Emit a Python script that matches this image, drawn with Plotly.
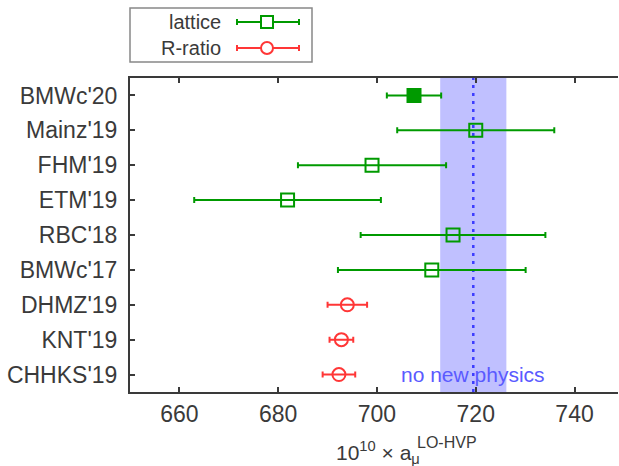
import plotly.graph_objects as go

# ---------------- data ----------------
labels = ["BMWc'20", "Mainz'19", "FHM'19", "ETM'19", "RBC'18", "BMWc'17",
          "DHMZ'19", "KNT'19", "CHHKS'19"]
lattice_labels = ["BMWc'20", "Mainz'19", "FHM'19", "ETM'19", "RBC'18", "BMWc'17"]
lattice_vals = [707.5, 720.0, 699.0, 681.9, 715.4, 711.1]
lattice_errs = [5.5, 15.9, 15.0, 18.9, 18.7, 19.0]
lattice_symbols = ["square", "square-open", "square-open", "square-open",
                   "square-open", "square-open"]
rratio_labels = ["DHMZ'19", "KNT'19", "CHHKS'19"]
rratio_vals = [694.0, 692.8, 692.3]
rratio_errs = [4.0, 2.4, 3.3]
nnp_value = 719.5
nnp_err = 6.7
x_ticks = [660, 680, 700, 720, 740]
x_range = [650, 748.8]

GREEN = "#009a00"
RED = "#ff3636"
TXT = "#3a3a3a"
FONT = "Liberation Sans, Arial, sans-serif"

W, H = 619, 466
ML, MR, MT, MB = 130, 1, 78, 74
PW, PH = W - ML - MR, H - MT - MB


def px(x):
    return (x - ML) / PW


def py(y):
    return (H - MB - y) / PH


fig = go.Figure()
fig.add_trace(go.Scatter(
    x=lattice_vals, y=lattice_labels, mode="markers", name="lattice",
    marker=dict(symbol=lattice_symbols, size=13, color=GREEN,
                line=dict(color=GREEN, width=2)),
    error_x=dict(type="data", array=lattice_errs, color=GREEN,
                 thickness=2, width=3),
    showlegend=False,
))
fig.add_trace(go.Scatter(
    x=rratio_vals, y=rratio_labels, mode="markers", name="R-ratio",
    marker=dict(symbol="circle-open", size=13, color=RED,
                line=dict(color=RED, width=2)),
    error_x=dict(type="data", array=rratio_errs, color=RED,
                 thickness=2, width=3),
    showlegend=False,
))

shapes = [
    dict(type="rect", xref="x", yref="paper", x0=nnp_value - nnp_err,
         x1=nnp_value + nnp_err, y0=0, y1=1, fillcolor="rgb(192,192,255)",
         line=dict(width=0), layer="below"),
    dict(type="line", xref="x", yref="paper", x0=nnp_value, x1=nnp_value,
         y0=0, y1=1, line=dict(color="rgb(60,60,255)", width=2.5,
                               dash="3px,5px"), layer="below"),
]

# custom legend (gnuplot style: text left, key right)
shapes.append(dict(type="rect", xref="paper", yref="paper",
                   x0=px(130), x1=px(312), y0=py(8), y1=py(62),
                   line=dict(color="#888888", width=1.5)))
annotations = []
for name, ycen, col, kind in [("lattice", 22, GREEN, "rect"),
                              ("R-ratio", 48, RED, "circle")]:
    annotations.append(dict(text=name, xref="paper", yref="paper",
                            x=px(223), y=py(ycen), xanchor="right",
                            yanchor="middle", showarrow=False,
                            font=dict(size=20, color=TXT, family=FONT)))
    shapes.append(dict(type="line", xref="paper", yref="paper",
                       x0=px(237), x1=px(299), y0=py(ycen), y1=py(ycen),
                       line=dict(color=col, width=2)))
    for xc in (237, 299):
        shapes.append(dict(type="line", xref="paper", yref="paper",
                           x0=px(xc), x1=px(xc), y0=py(ycen - 3),
                           y1=py(ycen + 3), line=dict(color=col, width=2)))
    shapes.append(dict(type=kind, xref="paper", yref="paper",
                       x0=px(261), x1=px(273), y0=py(ycen - 6),
                       y1=py(ycen + 6), fillcolor="white",
                       line=dict(color=col, width=2)))

annotations.append(dict(text="no new physics", xref="x", yref="y",
                        x=nnp_value, y="CHHKS'19", xanchor="center",
                        yanchor="middle", showarrow=False,
                        font=dict(size=21, color="rgb(90,90,255)",
                                  family=FONT)))
# x axis title
annotations.append(dict(text="10<sup>10</sup> × a<sub>μ</sub>",
                        xref="paper", yref="paper", x=px(334), y=py(452),
                        xanchor="left", yanchor="middle", showarrow=False,
                        font=dict(size=21, color=TXT, family=FONT)))
annotations.append(dict(text="LO-HVP", xref="paper", yref="paper",
                        x=px(415), y=py(442), xanchor="left",
                        yanchor="middle", showarrow=False,
                        font=dict(size=16, color=TXT, family=FONT)))

fig.update_layout(
    width=W, height=H,
    margin=dict(l=ML, r=MR, t=MT, b=MB),
    plot_bgcolor="white", paper_bgcolor="white",
    font=dict(family=FONT, color=TXT, size=20),
    shapes=shapes, annotations=annotations,
    xaxis=dict(range=x_range, tickvals=x_ticks, ticks="inside", ticklen=5,
               tickwidth=1.5, tickcolor=TXT, showline=True, linecolor=TXT,
               linewidth=2, mirror="ticks", showgrid=False, zeroline=False,
               tickfont=dict(size=23, color=TXT)),
    yaxis=dict(type="category", categoryorder="array", categoryarray=labels,
               range=[len(labels) - 0.5, -0.5], ticks="inside", ticklen=5,
               tickwidth=1.5, tickcolor=TXT, showline=True, linecolor=TXT,
               linewidth=2, showgrid=False, zeroline=False,
               tickfont=dict(size=23, color=TXT), ticklabelstandoff=6,
               automargin=False),
    yaxis2=dict(overlaying="y", side="right", range=[len(labels) - 0.5, -0.5],
                tickvals=list(range(len(labels))), ticks="inside", ticklen=4,
                tickwidth=1.5, tickcolor=TXT, showticklabels=False,
                showline=False, showgrid=False, zeroline=False),
)

fig.write_html("out.html", config={"displayModeBar": False},
               post_script="document.body.style.margin='0px';")
